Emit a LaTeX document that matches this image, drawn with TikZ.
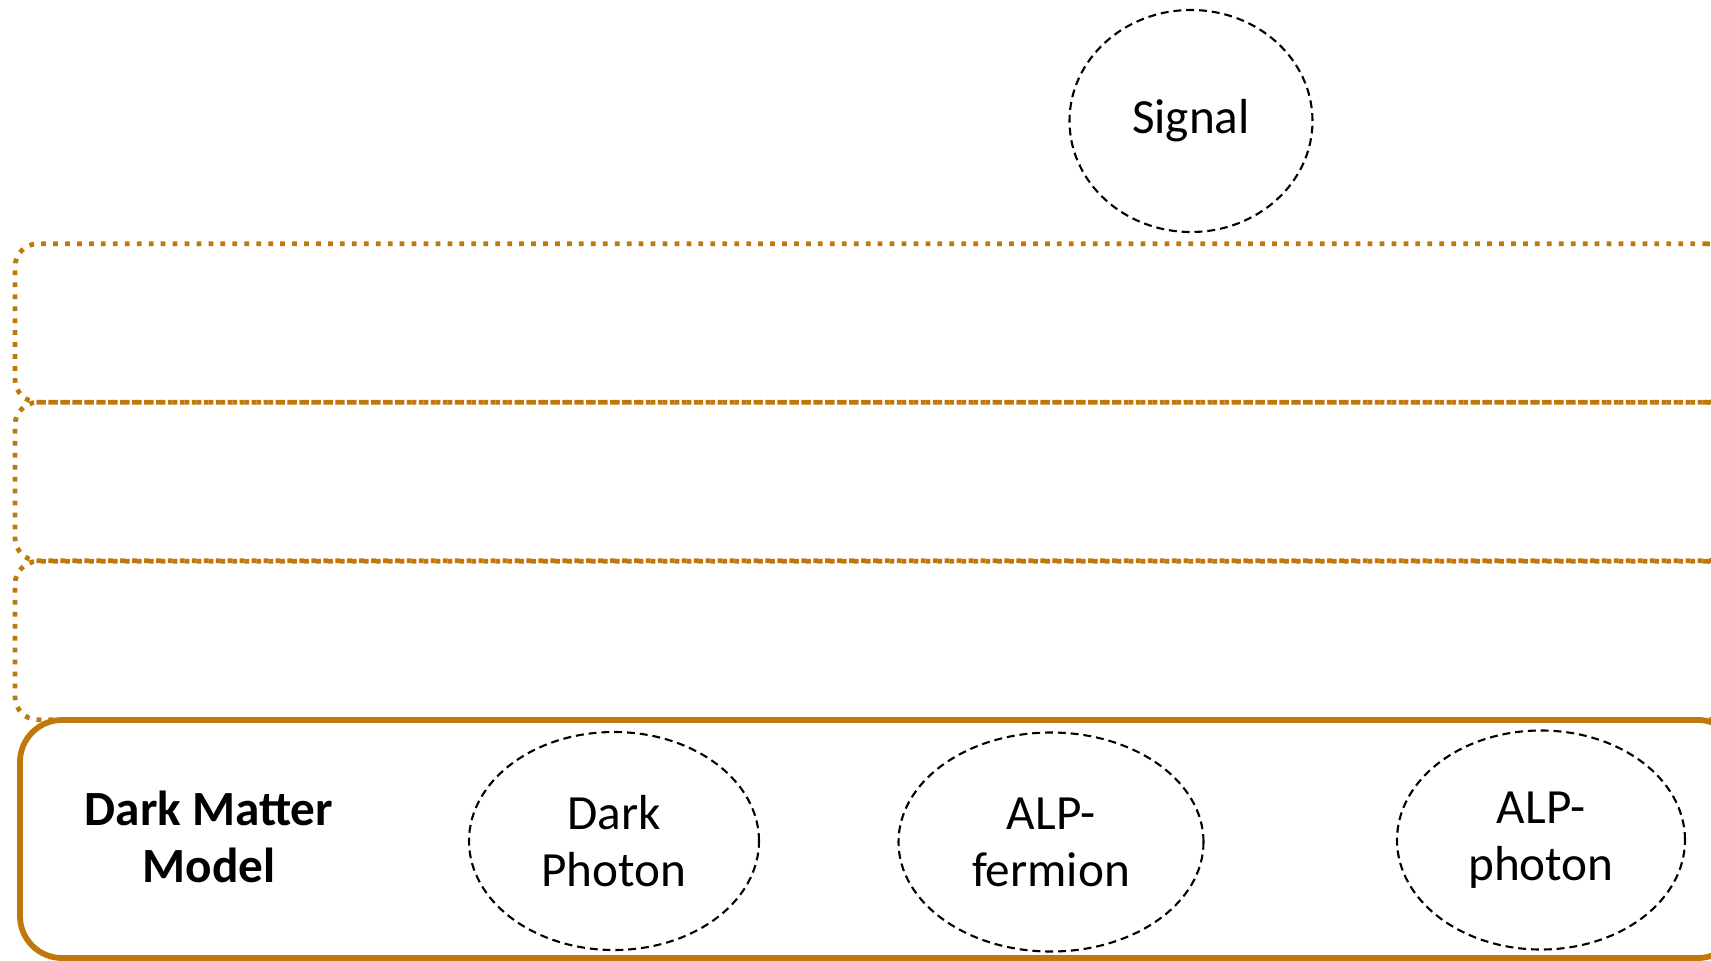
\documentclass[tikz,border=0pt]{standalone}
\usepackage{fontspec}
\setmainfont{Carlito}
\usetikzlibrary{shapes.geometric,positioning}
\definecolor{clLayer}{HTML}{C0780C}
\newcommand{\diagfont}{\fontsize{28}{32.5}\selectfont}
\tikzset{
  layerbox/.style={rectangle, rounded corners=4.6mm, draw=clLayer, line width=2.7pt,
              dash pattern=on 2.7pt off 4.1pt, minimum width=34.3cm,
              minimum height=3.17cm, inner sep=0pt},
  modelbox/.style={rectangle, rounded corners=8.4mm, draw=clLayer, line width=3.3pt,
              minimum width=34.4cm, minimum height=4.76cm, inner sep=0pt},
  particle/.style={ellipse, draw, line width=1.2pt, dash pattern=on 4.5pt off 2.8pt,
              align=center, inner sep=0pt, font=\diagfont},
  modellabel/.style={align=center, font=\diagfont\bfseries},
}

\begin{document}
\begin{tikzpicture}[x=0.2mm, y=-0.2mm]
  \useasboundingbox (0,0) rectangle (1711,961);
  % layers
  \node[layerbox] (layerA) at (872.5,323) {};
  \node[layerbox] (layerB) at (872.5,481.5) {};
  \node[layerbox] (layerC) at (872.5,640.5) {};
  \node[modelbox, fill=white] (model) at (880,839) {};
  \node[modellabel] (dm) at (209,837) {Dark Matter\\Model};
  % particles
  \node[particle, minimum width=5.8cm, minimum height=4.36cm] (dp) at (614,841) {Dark\\Photon};
  \node[particle, minimum width=6.1cm, minimum height=4.38cm] (alpf) at (1051,842) {ALP-\\fermion};
  \node[particle, minimum width=5.76cm, minimum height=4.38cm] (alpp) at (1541,840) {ALP-\\photon};
  \node[particle, minimum width=4.86cm, minimum height=4.44cm] (sig) at (1191,121) {Signal};
\end{tikzpicture}
\end{document}
